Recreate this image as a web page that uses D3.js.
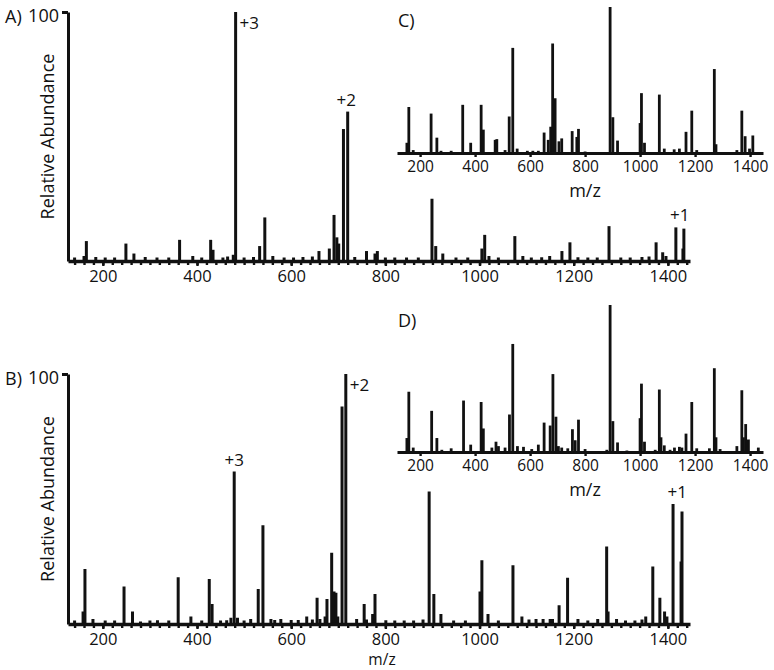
<!DOCTYPE html>
<html>
<head>
<meta charset="utf-8">
<script src="https://cdn.jsdelivr.net/npm/d3@7"></script>
<style>
  body { margin: 0; background: #fff; }
  svg text { font-family: "Open Sans", "Noto Sans", sans-serif; fill: #111; }
  .axis path, .axis line { stroke: #111; }
</style>
</head>
<body>
<svg id="chart" width="774" height="670"></svg>
<script>
// peaks as [m/z, relative abundance %]
var peaksA = [[160,2],[165,8],[249,7],[266,3],[363,8.5],[391,2],[429,8.5],[434,4.5],[477,2.5],[482,100],
  [533,6],[544,17.5],[561,2],[659,4],[681,5],[691,18.5],[697,9.5],[701,7],[711,53],[720,60],[760,4],[778,3],[783,4],
  [899,25],[907,6],[922,3],[1005,5],[1011,10.5],[1020,2],[1075,10],[1092,2],[1132,1.5],[1149,2],[1175,4],[1192,7.5],
  [1209,1.5],[1275,14],[1375,7.5],[1389,3.5],[1396,2],[1417,13.5],[1432,5],[1434,13]];
var peaksB = [[158,5],[162,22],[179,2],[245,15],[263,5],[280,1],[316,1.5],[360,18.7],[387,3],[426,18],[432,8],
  [463,1.5],[472,2.5],[479,61],[486,2.5],[514,2],[530,14],[540,39.5],[557,2],[578,2],[633,3],[655,10.5],[661,2],
  [672,3],[676,10],[686,28.5],[691,13],[695,12.5],[699,3],[708,87],[716,100],[739,2],[755,8],[773,4],[778,12],[801,1.5],
  [893,53],[903,12],[918,4],[1001,13],[1005,25.5],[1018,4],[1071,23.5],[1090,3],[1120,2],[1135,2],[1150,2],[1155,2],
  [1169,7.5],[1187,18.5],[1209,2],[1251,2],[1270,31],[1273,5],[1291,2],[1353,3],[1368,23],[1383,10.5],[1393,5],
  [1398,3],[1411,48],[1428,25],[1430,45]];
var peaksC = [[152,7],[159,31.5],[175,2],[240,27],[261,10.5],[276,1.5],[313,1.5],[355,33],[384,7],[422,33],[430,16],
  [473,9],[479,9.5],[509,2],[524,25],[537,72],[553,3],[590,1.5],[610,1.5],[630,1.5],[651,14],[666,9],[675,18],[682,75],
  [691,37.5],[705,8],[715,10],[753,15],[770,11],[776,16.5],[800,1],[891,100],[901,24.5],[918,8.5],[1000,20.5],
  [1005,41],[1016,7],[1070,40],[1088,3],[1124,2.5],[1143,3],[1167,14.5],[1188,29],[1206,2],[1270,57.5],[1276,6],
  [1352,2],[1370,29],[1382,11.5],[1398,3],[1410,12]];
var peaksD = [[152,9.5],[159,41],[175,3],[242,28],[261,9.5],[279,1.5],[313,2.5],[358,35],[384,5],[422,34],[430,16],
  [461,3],[476,7],[485,4],[509,3],[525,25.5],[537,73.5],[554,4],[576,3.5],[606,2],[630,5],[651,20],[673,18],[683,53],
  [694,24],[703,4],[715,3],[737,2.5],[754,15.5],[764,8],[776,22],[800,2],[879,1.5],[891,100],[901,21],[918,6.5],
  [952,1],[1000,23],[1005,46.5],[1016,7],[1055,1.5],[1070,42.5],[1076,10],[1088,4.5],[1109,1.5],[1125,3],[1143,3.5],
  [1152,3],[1167,12.5],[1188,34],[1206,2.5],[1252,2.5],[1270,57],[1276,10],[1291,2],[1352,4],[1370,42],[1376,10],
  [1384,19],[1394,8.5],[1430,3]];

// baseline noise
var noiseA = [[140,0.8],[185,1],[205,0.8],[225,0.8],[290,1],[315,0.8],[340,0.8],[410,0.8],[455,0.8],[465,1.2],[500,0.8],
  [520,1],[585,0.8],[605,0.8],[625,1],[645,1.2],[735,1],[800,0.8],[820,0.8],[845,0.8],[870,0.8],[950,0.8],[975,0.8],
  [1040,0.8],[1110,0.8],[1230,0.8],[1250,0.8],[1300,0.8],[1320,0.8],[1345,1],[1360,1.2]];
var noiseB = [[140,0.8],[205,0.8],[225,0.8],[300,0.8],[340,0.8],[410,0.8],[450,0.8],[500,0.8],[565,1],[600,1],[615,1],
  [645,1.2],[760,1.2],[820,0.8],[840,0.8],[860,0.8],[880,1.2],[945,0.8],[970,0.8],[1040,0.8],[1105,1.2],[1230,0.8],
  [1310,0.8],[1330,0.8],[1345,1.2]];

var mzTicks = [200, 400, 600, 800, 1000, 1200, 1400];
var minorTicks = d3.range(140, 1441, 20);

var charges = {
  A: [{t: "+3", mz: 482, ab: 100, pos: "right"}, {t: "+2", mz: 717, ab: 60, pos: "top"}, {t: "+1", mz: 1425, ab: 13.5, pos: "top"}],
  B: [{t: "+3", mz: 479, ab: 61, pos: "top"}, {t: "+2", mz: 716, ab: 100, pos: "right"}, {t: "+1", mz: 1420, ab: 48, pos: "top"}]
};

var svg = d3.select("#chart");

function mainPanel(peaks, noise, top, base, letter, chg, showMz) {
  var x = d3.scaleLinear().domain([126, 1447]).range([68, 690]);
  var y = d3.scaleLinear().domain([0, 100]).range([base, top]);
  var g = svg.append("g");

  g.selectAll(".noise").data(noise).enter().append("line")
    .attr("x1", d => x(d[0])).attr("x2", d => x(d[0]))
    .attr("y1", y(0)).attr("y2", d => y(d[1]) - 1.5)
    .attr("stroke", "#111").attr("stroke-width", 3);

  g.selectAll(".pk").data(peaks).enter().append("line")
    .attr("x1", d => x(d[0])).attr("x2", d => x(d[0]))
    .attr("y1", y(0)).attr("y2", d => y(d[1]))
    .attr("stroke", "#111").attr("stroke-width", 3);

  // minor ticks
  g.append("g").attr("class", "axis").attr("transform", "translate(0," + base + ")")
    .call(d3.axisBottom(x).tickValues(minorTicks).tickSize(4).tickSizeOuter(0).tickFormat(""))
    .call(a => a.select(".domain").remove())
    .selectAll("line").attr("stroke-width", 2.4);

  var ax = g.append("g").attr("class", "axis").attr("transform", "translate(0," + base + ")")
    .call(d3.axisBottom(x).tickValues(mzTicks).tickSize(5).tickSizeOuter(0).tickPadding(4).tickFormat(d3.format("d")));
  ax.select(".domain").attr("stroke-width", 3.5);
  ax.selectAll("line").attr("stroke-width", 2.4);
  ax.selectAll("text").attr("font-size", 16.5).attr("fill", "#111").attr("dy", "0.72em");

  var ay = g.append("g").attr("class", "axis").attr("transform", "translate(68,0)")
    .call(d3.axisLeft(y).tickValues([100]).tickSize(6).tickSizeOuter(0).tickPadding(3));
  ay.select(".domain").attr("stroke-width", 3);
  ay.selectAll("line").attr("stroke-width", 3);
  ay.selectAll("text").attr("font-size", 18).attr("fill", "#111").attr("dy", "0.55em");

  g.append("text").attr("x", 5).attr("y", top + 11).attr("font-size", 18).text(letter + ")");

  g.append("text")
    .attr("transform", "translate(54," + ((top + base) / 2) + ") rotate(-90)")
    .attr("text-anchor", "middle").attr("font-size", 18).text("Relative Abundance");

  chg.forEach(function(c) {
    var t = g.append("text").attr("font-size", 17).text(c.t);
    if (c.pos === "right") {
      t.attr("x", x(c.mz) + 4).attr("y", y(c.ab) + 17);
    } else {
      t.attr("x", x(c.mz)).attr("y", y(c.ab) - 6).attr("text-anchor", "middle");
    }
  });

  if (showMz) {
    g.append("text").attr("x", 382).attr("y", 665).attr("text-anchor", "middle")
      .attr("font-size", 15.5).text("m/z");
  }
}

function inset(peaks, top, base, letter) {
  var x = d3.scaleLinear().domain([116, 1447]).range([397, 763]);
  var y = d3.scaleLinear().domain([0, 100]).range([base, top]);
  var g = svg.append("g");

  g.selectAll(".pk").data(peaks).enter().append("line")
    .attr("x1", d => x(d[0])).attr("x2", d => x(d[0]))
    .attr("y1", y(0)).attr("y2", d => y(d[1]))
    .attr("stroke", "#111").attr("stroke-width", 2.8);

  var ax = g.append("g").attr("class", "axis").attr("transform", "translate(0," + base + ")")
    .call(d3.axisBottom(x).tickValues(mzTicks).tickSize(4).tickSizeOuter(0).tickPadding(4).tickFormat(d3.format("d")));
  ax.select(".domain").attr("stroke-width", 3);
  ax.selectAll("line").attr("stroke-width", 2.4);
  ax.selectAll("text").attr("font-size", 15.5).attr("fill", "#111").attr("dy", "0.72em");

  g.append("text").attr("x", 398).attr("y", top + (letter === "C" ? 20 : 22)).attr("font-size", 18).text(letter + ")");
  g.append("text").attr("x", 585).attr("y", base + 44).attr("text-anchor", "middle")
    .attr("font-size", 18).text("m/z");
}

mainPanel(peaksA, noiseA, 12, 261, "A", charges.A, false);
mainPanel(peaksB, noiseB, 374, 624, "B", charges.B, true);
inset(peaksC, 7, 153, "C");
inset(peaksD, 305, 452, "D");
</script>
</body>
</html>
